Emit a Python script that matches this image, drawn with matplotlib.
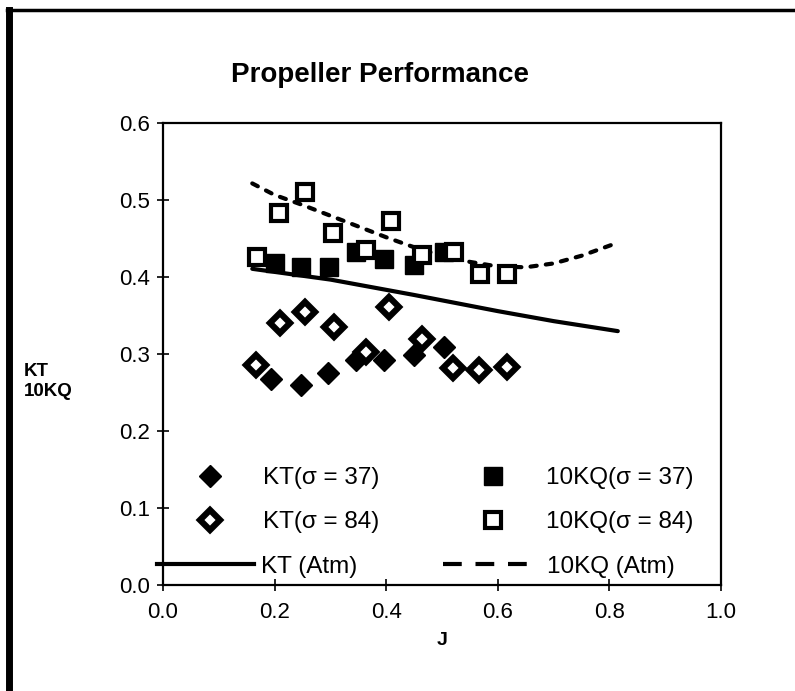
import matplotlib
matplotlib.use("Agg")
import matplotlib.pyplot as plt
from matplotlib.lines import Line2D

plt.rcParams["font.family"] = ["Liberation Sans", "DejaVu Sans"]

# KT, sigma = 37 (filled diamonds)
j_kt37 = [0.194, 0.248, 0.295, 0.346, 0.396, 0.450, 0.504]
kt37 = [0.268, 0.260, 0.276, 0.292, 0.292, 0.299, 0.310]

# KT, sigma = 84 (open diamonds)
j_kt84 = [0.166, 0.209, 0.254, 0.307, 0.364, 0.405, 0.465, 0.520, 0.567, 0.617]
kt84 = [0.286, 0.341, 0.355, 0.335, 0.303, 0.361, 0.320, 0.282, 0.280, 0.284]

# 10KQ, sigma = 37 (filled squares)
j_kq37 = [0.200, 0.248, 0.298, 0.346, 0.396, 0.450, 0.504]
kq37 = [0.418, 0.413, 0.414, 0.433, 0.424, 0.416, 0.433]

# 10KQ, sigma = 84 (open squares)
j_kq84 = [0.168, 0.208, 0.255, 0.304, 0.364, 0.408, 0.465, 0.521, 0.568, 0.617]
kq84 = [0.427, 0.483, 0.511, 0.457, 0.435, 0.473, 0.429, 0.433, 0.404, 0.404]

# atmospheric curves
j_kt_atm = [0.16, 0.30, 0.45, 0.60, 0.70, 0.815]
kt_atm = [0.411, 0.397, 0.377, 0.356, 0.343, 0.330]
j_kq_atm = [0.16, 0.2, 0.25, 0.3, 0.35, 0.4, 0.45, 0.5, 0.55, 0.6, 0.65, 0.7, 0.75, 0.815]
kq_atm = [0.522, 0.507, 0.494, 0.48, 0.466, 0.452, 0.439, 0.428, 0.42, 0.414, 0.413, 0.418, 0.428, 0.445]

x_ticks = [0.0, 0.2, 0.4, 0.6, 0.8, 1.0]
y_ticks = [0.0, 0.1, 0.2, 0.3, 0.4, 0.5, 0.6]

# marker styles, shared by plot and legend
st_kt37 = dict(ls="", marker="D", ms=11, color="k")
st_kt84 = dict(ls="", marker="D", ms=10, mfc="white", mec="k", mew=4.5)
st_kq37 = dict(ls="", marker="s", ms=13, color="k")
st_kq84 = dict(ls="", marker="s", ms=12, mfc="white", mec="k", mew=3)

fig = plt.figure(figsize=(7.95, 6.91), dpi=100)
ax = fig.add_axes([0.205, 0.1534, 0.702, 0.668])

# atmospheric lines
ax.plot(j_kt_atm, kt_atm, color="k", lw=3, solid_capstyle="round")
ax.plot(j_kq_atm, kq_atm, color="k", lw=3, ls=(0, (1.5, 2.2)),
        dash_capstyle="round")

# data points
ax.plot(j_kt37, kt37, **st_kt37)
ax.plot(j_kt84, kt84, **st_kt84)
ax.plot(j_kq37, kq37, **st_kq37)
ax.plot(j_kq84, kq84, **st_kq84)

ax.set_xlim(0, 1.0)
ax.set_ylim(0, 0.6)
ax.set_xticks(x_ticks)
ax.set_yticks(y_ticks)
ax.set_xticklabels([f"{v:.1f}" for v in x_ticks])
ax.set_yticklabels([f"{v:.1f}" for v in y_ticks])
ax.tick_params(direction="inout", length=9, width=1.2, labelsize=16)
ax.tick_params(axis="y", pad=5)
ax.tick_params(axis="x", pad=8)
for s in ax.spines.values():
    s.set_linewidth(1.6)

ax.set_xlabel("J", fontsize=14, fontweight="bold", labelpad=6)
fig.text(0.03, 0.448, "KT\n10KQ", fontsize=13.5, fontweight="bold",
         ha="left", va="center", linespacing=1.2)
fig.text(0.478, 0.891, "Propeller Performance", fontsize=20,
         fontweight="bold", ha="center", va="center")

# legend: marker entries
h1 = [Line2D([], [], **st_kt37), Line2D([], [], **st_kt84),
      Line2D([], [], **st_kq37), Line2D([], [], **st_kq84)]
lab1 = ["KT(\u03c3 = 37)", "KT(\u03c3 = 84)",
        "10KQ(\u03c3 = 37)", "10KQ(\u03c3 = 84)"]
leg1 = ax.legend(h1, lab1, ncol=2, loc="center left",
                 bbox_to_anchor=(0.041, 0.184), frameon=False, fontsize=17.5,
                 handlelength=2.0, handletextpad=1.18, columnspacing=3.65,
                 labelspacing=0.9, borderpad=0, borderaxespad=0, numpoints=1)
ax.add_artist(leg1)

# legend: line entries
h2 = [Line2D([], [], color="k", lw=3),
      Line2D([], [], color="k", lw=3, ls=(0, (4.5, 3.3)))]
lab2 = ["KT (Atm)", "10KQ (Atm)"]
ax.legend(h2, lab2, ncol=2, loc="center left", bbox_to_anchor=(-0.011, 0.039),
          frameon=False, fontsize=17.5, handlelength=4.0, handletextpad=0.3,
          columnspacing=3.5, borderpad=0, borderaxespad=0)

# outer frame
fig.add_artist(Line2D([0.011, 0.011], [0.0, 0.986], color="k", lw=5,
                      transform=fig.transFigure))
fig.add_artist(Line2D([0.009, 1.0], [0.986, 0.986], color="k", lw=2.5,
                      transform=fig.transFigure))

fig.savefig("out.png", dpi=100)
